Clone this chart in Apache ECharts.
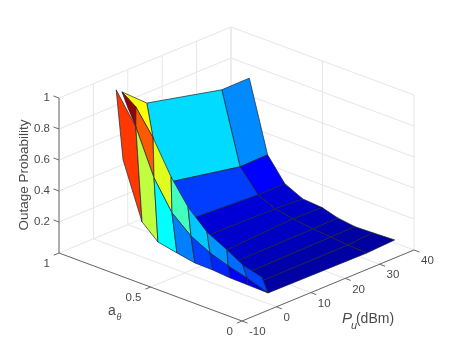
<!DOCTYPE html>
<html>
<head>
<meta charset="utf-8">
<style>
html, body { margin: 0; padding: 0; background: #fff; }
#main { width: 457px; height: 360px; }
</style>
<script src="https://cdn.jsdelivr.net/npm/echarts@6/dist/echarts.min.js"></script>
</head>
<body>
<div id="main"></div>
<script>
// axis ticks
var pTicks = [-10, 0, 10, 20, 30, 40];
var aTicks = [0, 0.5, 1];
var zTicks = [0.2, 0.4, 0.6, 0.8, 1];

// a_theta of each mesh row
var aRows = [0.9, 0.8, 0.7, 0.6, 0.5, 0.4, 0.3, 0.2, 0.1];

// mesh columns: Pu value and outage per row
var pC0 = [3.3, 3.5, 2.8, 3, 2.9, 2.8, 2.5, 2.4, 2.9];
var zC0 = [0.523, 0.165, 0.086, 0.057, 0.037, 0.036, 0.032, 0.031, 0.019];
var pC1 = [1.3, 1.7, 1.66, 1.57, 1.77, 1.97, 1.9, 2.1, 2.9];
var zC1 = [0.993, 0.794, 0.509, 0.328, 0.221, 0.154, 0.115, 0.079, 0.019];
var pC1b = [4.74, 1.7, 1.66, 1.57, 1.77, 1.97, 1.9, 2.1, 2.9];
var zC1b = [0.845, 0.794, 0.509, 0.328, 0.221, 0.154, 0.115, 0.079, 0.019];
var pC2 = [3, 1.7, 1.4, 1.3, 0.9, 1.1, 1.6, 0.9, 1.1];
var zC2 = [0.964, 0.923, 0.77, 0.563, 0.417, 0.297, 0.221, 0.174, 0.138];
var pC3 = [10.2, 6.7];
var zC3 = [0.826, 0.677];
var pC4 = [10.2, 9, 13.3, 12.3, 11.4, 9.8, 8, 6.5, 2.9];
var zC4 = [0.826, 0.359, 0.145, 0.088, 0.037, 0.03, 0.02, 0.02, 0.019];
var pC5 = [32, 32, 31.9, 31.5, 31.4, 31.9, 31.8, 31.4, 31.6];
var zC5 = [0.712, 0.259, 0.123, 0.08, 0.061, 0.035, 0.028, 0.024, 0.014];
var pC6 = [40, 40, 39.7, 39.6, 39.9, 39.1, 38.8, 38.7, 39.7];
var zC6 = [0.714, 0.263, 0.123, 0.07, 0.055, 0.04, 0.03, 0.035, 0.024];

// face colour values (0..1 on the jet map), one per row gap
var cFront = [0.82, 0.5625, 0.375, 0.25, 0.19, 0.16, 0.12, 0.1];
var cMid = [0.975, 0.7875, 0.595, 0.44, 0.32, 0.27, 0.23, 0.19];
var cFold = [0.62];
var cFarA = [0.34, 0.185, 0.085, 0.075, 0.065, 0.055, 0.04, 0.035];
var cFarB = [0.26, 0.125, 0.08, 0.065, 0.055, 0.045, 0.035, 0.03];

// back to front, later strips are painted over earlier ones
var strips = [
    { left: [pC5, zC5], right: [pC6, zC6], colors: cFarB },
    { left: [pC4, zC4], right: [pC5, zC5], colors: cFarA },
    { left: [pC2, zC2], right: [pC3, zC3], colors: cFold },
    { left: [pC1b, zC1b], right: [pC2, zC2], colors: cMid },
    { left: [pC0, zC0], right: [pC1, zC1], colors: cFront }
];

var faces = [];
for (var s = 0; s < strips.length; s++) {
    for (var r = 0; r < strips[s].colors.length; r++) {
        faces.push([s, r]);
    }
}

/*==========================================
 * 3D to the flat plane of the hidden axes (orthographic, MATLAB like view)
 */
function project(p, a, z) {
    return [
        242 + (p + 10) * 172 / 50 - a * 183,
        321 - (p + 10) * 71 / 50 - a * 68 - z * 155
    ];
}

function jet(v) {
    var f = function(x) {
        return Math.round(255 * Math.max(0, Math.min(1, x)));
    };
    var r = Math.min(4 * v - 1.5, -4 * v + 4.5);
    var g = Math.min(4 * v - 0.5, -4 * v + 3.5);
    var b = Math.min(4 * v + 0.5, -4 * v + 2.5);
    return 'rgb(' + f(r) + ',' + f(g) + ',' + f(b) + ')';
}

// wall and floor grid
var gridSegs = [];
pTicks.forEach(function(p) {
    gridSegs.push([p, 0, 0, p, 1, 0]);
    gridSegs.push([p, 1, 0, p, 1, 1]);
});
aTicks.forEach(function(a) {
    gridSegs.push([-10, a, 0, 40, a, 0]);
    gridSegs.push([40, a, 0, 40, a, 1]);
});
zTicks.forEach(function(z) {
    gridSegs.push([-10, 1, z, 40, 1, z]);
    gridSegs.push([40, 0, z, 40, 1, z]);
});

// axis lines and tick marks
var axisSegs = [
    [-10, 0, 0, -10, 1, 0],
    [-10, 0, 0, 40, 0, 0],
    [-10, 1, 0, -10, 1, 1]
];
pTicks.forEach(function(p) {
    axisSegs.push([p, 0, 0, p, -0.03, 0]);
});
aTicks.forEach(function(a) {
    axisSegs.push([-10, a, 0, -11.5, a, 0]);
});
zTicks.forEach(function(z) {
    axisSegs.push([-10, 1, z, -10, 1.03, z]);
});

var GRID_COLOR = '#e6e6e6';
var AXIS_COLOR = '#6a6a6a';
var TEXT_COLOR = '#4a4a4a';
var FONT = '"Liberation Sans", Arial, sans-serif';

function renderSeg(segs, color) {
    return function(params, api) {
        var d = segs[params.dataIndex];
        var a = api.coord(project(d[0], d[1], d[2]));
        var b = api.coord(project(d[3], d[4], d[5]));
        return {
            type: 'line',
            shape: { x1: a[0], y1: a[1], x2: b[0], y2: b[1] },
            style: { stroke: color, lineWidth: 1 }
        };
    };
}

function renderFace(params, api) {
    var f = faces[params.dataIndex];
    var st = strips[f[0]];
    var r = f[1];
    var pts = [
        [st.left[0][r], aRows[r], st.left[1][r]],
        [st.right[0][r], aRows[r], st.right[1][r]],
        [st.right[0][r + 1], aRows[r + 1], st.right[1][r + 1]],
        [st.left[0][r + 1], aRows[r + 1], st.left[1][r + 1]]
    ].map(function(v) {
        return api.coord(project(v[0], v[1], v[2]));
    });
    return {
        type: 'polygon',
        shape: { points: pts },
        style: { fill: jet(st.colors[r]), stroke: '#1c2430', lineWidth: 0.7 }
    };
}

// tick labels: text, 3d point, dx, dy, align
var tickLabels = [];
pTicks.forEach(function(p) {
    tickLabels.push([String(p), p, 0, 0, 7, 11, 'left']);
});
aTicks.forEach(function(a) {
    tickLabels.push([String(a), -10, a, 0, -9, 11, 'right']);
});
zTicks.forEach(function(z) {
    tickLabels.push([String(z), -10, 1, z, -9, 0, 'right']);
});

function renderTick(params, api) {
    var t = tickLabels[params.dataIndex];
    var c = api.coord(project(t[1], t[2], t[3]));
    return {
        type: 'text',
        style: {
            text: t[0],
            x: c[0] + t[4],
            y: c[1] + t[5],
            align: t[6],
            verticalAlign: 'middle',
            fill: TEXT_COLOR,
            font: '11.5px ' + FONT
        }
    };
}

function titleText(text, x, y, size, italic, rotation) {
    return {
        type: 'text',
        x: x,
        y: y,
        rotation: rotation || 0,
        style: {
            text: text,
            fill: TEXT_COLOR,
            align: 'center',
            verticalAlign: 'middle',
            font: (italic ? 'italic ' : '') + size + 'px ' + FONT
        }
    };
}

var myChart = echarts.init(document.getElementById('main'), null, { renderer: 'canvas' });

myChart.setOption({
    animation: false,
    backgroundColor: '#fff',
    grid: { left: 0, right: 0, top: 0, bottom: 0 },
    xAxis: { type: 'value', min: 0, max: 457, show: false },
    yAxis: { type: 'value', min: 0, max: 360, inverse: true, show: false },
    graphic: [
        titleText('Outage Probability', 24, 175, 13.5, false, Math.PI / 2),
        titleText('a', 112, 311, 14, false),
        titleText('θ', 119, 317, 9, true),
        titleText('P', 347, 319, 15, true),
        titleText('u', 354, 326, 11, true),
        titleText('(dBm)', 375, 319, 14, false)
    ],
    series: [{
        type: 'custom',
        silent: true,
        clip: false,
        renderItem: renderSeg(gridSegs, GRID_COLOR),
        data: gridSegs.map(function(d, i) { return [i, i]; })
    }, {
        type: 'custom',
        silent: true,
        clip: false,
        renderItem: renderSeg(axisSegs, AXIS_COLOR),
        data: axisSegs.map(function(d, i) { return [i, i]; })
    }, {
        type: 'custom',
        silent: true,
        clip: false,
        renderItem: renderFace,
        data: faces
    }, {
        type: 'custom',
        silent: true,
        clip: false,
        renderItem: renderTick,
        data: tickLabels.map(function(d, i) { return [i, i]; })
    }]
});
</script>
</body>
</html>
